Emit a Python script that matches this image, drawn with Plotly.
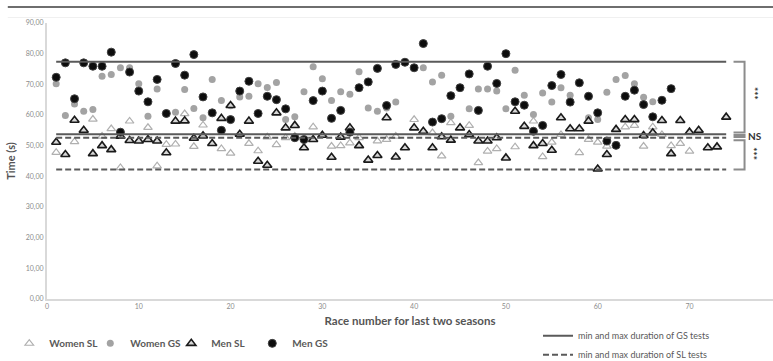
import plotly.graph_objects as go

# ---- data ----
women_sl = [47.8, None, 51.3, None, 58.6, 53.1, 55.5, 42.8, 58.0, None,
            55.9, 43.4, 50.4, 50.5, 60.4, 49.7, 56.7, None, 49.0, 47.5,
            None, 50.7, 48.3, 52.8, 50.3, 52.6, 53.1, None, 56.1, None,
            49.8, 50.0, 50.9, 52.6, None, 51.5, 52.0, 53.1, None, 58.5,
            None, 54.2, 46.6, 57.5, None, 56.6, 44.4, 48.2, 49.0, None,
            49.6, None, 58.0, 46.4, 51.1, 53.6, None, 47.7, 52.0, 51.1,
            49.8, None, 56.1, 56.6, 49.8, 56.1, 53.6, 50.0, 50.7, 48.2]
women_gs = [70.2, 59.8, 63.6, 61.2, 61.8, 72.6, 73.2, 75.4, 75.4, 70.2,
            59.6, 68.5, None, 60.9, 68.3, 62.1, 59.1, 71.6, 64.7, 63.0,
            65.9, 66.1, 70.2, 69.0, 70.6, 58.5, 59.4, 67.6, 75.7, 71.8,
            64.7, 67.6, 66.8, 74.1, 62.3, 61.2, 62.3, 64.2, None, None,
            75.4, 70.8, 73.0, 59.6, None, 62.0, 68.5, 68.5, 67.8, 62.0,
            74.6, 66.4, 60.2, 67.2, 64.2, 68.9, 66.4, None, 59.1, 58.5,
            67.4, 71.6, 72.9, 70.2, 65.8, 64.3]
men_sl = [51.1, 47.1, 58.3, 55.0, 47.4, 50.0, 48.7, 53.1, 51.7, 51.5,
          52.0, 51.5, 47.7, 58.0, 58.1, 52.4, 53.2, 50.7, 58.9, 63.1,
          53.7, 58.0, 44.9, 43.6, 60.7, 55.8, 56.6, 49.3, 52.0, 53.4,
          46.2, 52.8, 55.8, 50.0, 45.3, 46.8, 59.1, 46.3, 49.3, 55.8,
          54.7, 49.3, 52.9, 51.8, 55.8, 53.6, 51.5, 51.5, 52.6, 46.0,
          61.2, 56.3, 50.0, 50.7, 48.5, 59.1, 55.5, 55.5, 58.0, 42.4,
          47.1, 55.3, 58.5, 58.5, 53.3, 54.2, 58.2, 47.4, 58.2, 54.4,
          55.0, 49.3, 49.6, 59.3]
men_gs = [72.3, 77.0, 65.3, 77.0, 75.9, 75.9, 80.5, 54.4, 74.0, 67.8,
          64.3, 71.6, 60.5, 76.8, 73.0, 79.7, 65.9, 60.7, 55.0, 58.5,
          67.8, 71.0, 60.5, 66.1, 65.0, 62.0, 52.6, 52.0, 64.7, 67.8,
          58.9, 61.5, 54.4, 68.9, 70.8, 75.2, 63.1, 76.5, 77.2, 75.4,
          83.3, 57.7, 58.8, 66.3, 68.9, 73.4, 61.5, 75.9, 70.3, 80.0,
          64.3, 63.2, 54.7, 56.6, 69.6, 73.2, 64.2, 70.5, 66.1, 60.7,
          51.5, 50.1, 66.1, 68.1, 63.4, 59.4, 64.8, 68.6]

gs_limits = [53.7, 77.4]   # min, max duration of GS tests
sl_limits = [42.2, 52.6]   # min, max duration of SL tests
limit_span = [1, 74]       # race range covered by limit lines

y_ticks = [0, 10, 20, 30, 40, 50, 60, 70, 80, 90]
y_tick_text = ["0,00", "10,00", "20,00", "30,00", "40,00",
               "50,00", "60,00", "70,00", "80,00", "90,00"]
x_ticks = [0, 10, 20, 30, 40, 50, 60, 70]


def races(series):
    return list(range(1, len(series) + 1))


FONT = "Lato"
fig = go.Figure()

fig.add_trace(go.Scatter(
    x=races(women_sl), y=women_sl, mode="markers", name="<b>Women SL</b>",
    marker=dict(symbol="triangle-up-open", size=7.5, color="#b0b0b0",
                line=dict(width=1.2))))
fig.add_trace(go.Scatter(
    x=races(women_gs), y=women_gs, mode="markers", name="<b>Women GS</b>",
    marker=dict(symbol="circle", size=7, color="#a3a3a3",
                line=dict(width=0))))
fig.add_trace(go.Scatter(
    x=races(men_sl), y=men_sl, mode="markers", name="<b>Men SL</b>",
    marker=dict(symbol="triangle-up", size=8, color="#d6d6d6",
                line=dict(color="#1a1a1a", width=1.6))))
fig.add_trace(go.Scatter(
    x=races(men_gs), y=men_gs, mode="markers", name="<b>Men GS</b>",
    marker=dict(symbol="circle", size=8, color="#0d0d0d",
                line=dict(color="#404040", width=1))))

# limit lines
gx = [limit_span[0], limit_span[1], None, limit_span[0], limit_span[1]]
fig.add_trace(go.Scatter(
    x=gx, y=[gs_limits[1], gs_limits[1], None, gs_limits[0], gs_limits[0]],
    mode="lines", name="min and max duration of GS tests",
    line=dict(color="#5a5a5a", width=2), legend="legend2"))
fig.add_trace(go.Scatter(
    x=gx, y=[sl_limits[1], sl_limits[1], None, sl_limits[0], sl_limits[0]],
    mode="lines", name="min and max duration of SL tests",
    line=dict(color="#5a5a5a", width=2, dash="6px,3px"), legend="legend2"))

# significance brackets
bx0, bx1 = 74.8, 76.0
bcol = dict(color="#8c8c8c", width=2)
brackets = [
    (gs_limits[1], gs_limits[0] + 0.6),
    (gs_limits[0] - 0.2, sl_limits[1] + 0.2),
    (sl_limits[1] - 0.8, sl_limits[0]),
]
shapes = []
for top, bot in brackets:
    shapes.append(dict(type="path", xref="x", yref="y",
                       path=f"M {bx0},{top} L {bx1},{top} L {bx1},{bot} L {bx0},{bot}",
                       line=bcol))
# top rule
shapes.append(dict(type="line", xref="paper", yref="paper",
                   x0=-0.054, x1=1.0, y0=1.058, y1=1.058,
                   line=dict(color="#6e6e6e", width=2)))
shapes.append(dict(type="line", xref="paper", yref="paper",
                   x0=-0.054, x1=1.0, y0=1.02, y1=1.02,
                   line=dict(color="#f0f0f0", width=1)))

annotations = [
    dict(x=76.2, y=(gs_limits[0] + gs_limits[1]) / 2 + 1.5, xref="x", yref="y",
         text="<b>***</b>", textangle=90, showarrow=False, xanchor="left",
         font=dict(family=FONT, size=10, color="#333")),
    dict(x=76.2, y=(gs_limits[0] + sl_limits[1]) / 2, xref="x", yref="y",
         text="<b>NS</b>", showarrow=False, xanchor="left",
         font=dict(family=FONT, size=10, color="#333")),
    dict(x=76.2, y=(sl_limits[0] + sl_limits[1]) / 2, xref="x", yref="y",
         text="<b>***</b>", textangle=90, showarrow=False, xanchor="left",
         font=dict(family=FONT, size=10, color="#333")),
]

fig.update_layout(
    width=773, height=361,
    margin=dict(l=47, r=0, t=23, b=62, autoexpand=False),
    paper_bgcolor="white", plot_bgcolor="white",
    font=dict(family=FONT, color="#595959"),
    shapes=shapes, annotations=annotations,
    legend=dict(orientation="h", xref="container", yref="container",
                x=0.012, y=0.089, xanchor="left", yanchor="top",
                font=dict(family=FONT, size=10, color="#595959"),
                itemwidth=30, entrywidth=36, bgcolor="rgba(0,0,0,0)"),
    legend2=dict(orientation="v", xref="container", yref="container",
                 x=0.696, y=0.11, xanchor="left", yanchor="top",
                 font=dict(family=FONT, size=9, color="#595959"),
                 tracegroupgap=0, bgcolor="rgba(0,0,0,0)"),
    xaxis=dict(range=[0, 79.1], tickvals=x_ticks, showgrid=False, zeroline=False,
               showline=True, linecolor="#d9d9d9", linewidth=2, ticks="",
               automargin=False,
               tickfont=dict(family=FONT, size=7, color="#8c8c8c"),
               title=dict(text="<b>Race number for last two seasons</b>", standoff=8,
                          font=dict(family=FONT, size=11.5, color="#555"))),
    yaxis=dict(range=[0, 90], tickvals=y_ticks, ticktext=y_tick_text,
               showgrid=False, zeroline=False, showline=True,
               linecolor="#d9d9d9", linewidth=2, ticks="", automargin=False,
               tickfont=dict(family=FONT, size=7, color="#8c8c8c"),
               title=dict(text="<b>Time (s)</b>", standoff=8,
                          font=dict(family=FONT, size=11, color="#555"))),
)

fig.write_html("out.html", config={"displayModeBar": False},
               post_script="document.body.style.margin='0';document.body.style.overflow='hidden';")
